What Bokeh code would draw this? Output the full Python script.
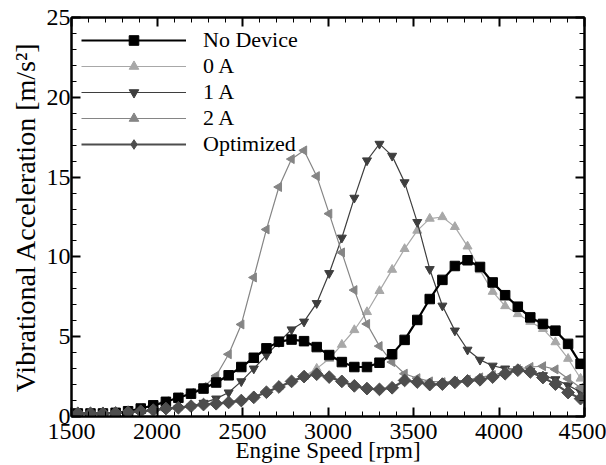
import math
from bokeh.plotting import figure
from bokeh.models import (Range1d, LinearAxis, SingleIntervalTicker, Legend, LegendItem,
                          CustomJSTickFormatter)
from bokeh.embed import file_html
from bokeh.resources import INLINE

rpm = [1537, 1611, 1684, 1758, 1831, 1905, 1978, 2052, 2125, 2199, 2272, 2346, 2419, 2493,
       2566, 2640, 2713, 2787, 2860, 2934, 3007, 3081, 3154, 3228, 3301, 3375, 3448, 3522,
       3595, 3669, 3742, 3816, 3889, 3963, 4036, 4110, 4183, 4257, 4330, 4404, 4477]

no_device = [0.19, 0.19, 0.19, 0.23, 0.33, 0.5, 0.7, 0.92, 1.17, 1.43,
             1.75, 2.13, 2.58, 3.1, 3.68, 4.27, 4.69, 4.82, 4.72, 4.35,
             3.85, 3.41, 3.1, 3.1, 3.37, 3.9, 4.8, 6.05, 7.36, 8.56,
             9.43, 9.79, 9.37, 8.4, 7.6, 6.88, 6.21, 5.8, 5.38, 4.55, 3.3]

zero_a = [0.2, 0.2, 0.2, 0.22, 0.28, 0.35, 0.42, 0.5, 0.57, 0.67,
          0.78, 0.85, 0.92, 1.05, 1.25, 1.55, 1.87, 2.2, 2.5, 3.0,
          3.62, 4.5, 5.42, 6.55, 7.87, 9.2, 10.5, 11.65, 12.4, 12.5,
          11.88, 10.66, 9.17, 7.82, 6.92, 6.42, 5.94, 5.49, 4.66, 3.62, 2.38]

one_a = [0.18, 0.18, 0.18, 0.2, 0.25, 0.3, 0.38, 0.45, 0.52, 0.62,
         0.85, 1.12, 1.5, 2.2, 3.0, 3.85, 4.66, 5.45, 5.94, 7.1,
         8.98, 11.2, 13.7, 16.04, 17.08, 16.33, 14.67, 12.18, 9.23, 6.94,
         5.38, 4.18, 3.55, 3.18, 3.0, 2.95, 2.85, 2.58, 2.33, 1.95, 1.54]

two_a = [0.2, 0.2, 0.2, 0.25, 0.35, 0.52, 0.72, 0.95, 1.2, 1.47,
         1.85, 2.55, 3.9, 5.77, 8.71, 11.72, 14.38, 16.13, 16.67, 15.06,
         12.71, 10.28, 7.92, 5.8, 4.41, 3.41, 2.68, 2.4, 2.2, 2.15,
         2.2, 2.3, 2.45, 2.6, 2.78, 2.97, 3.1, 3.15, 2.95, 2.37, 1.8]

optimized = [0.2, 0.2, 0.2, 0.22, 0.27, 0.33, 0.4, 0.5, 0.55, 0.65,
             0.75, 0.8, 0.88, 1.0, 1.2, 1.52, 1.85, 2.2, 2.5, 2.65,
             2.47, 2.2, 1.92, 1.75, 1.7, 1.8, 2.26, 2.16, 2.0, 2.03,
             2.14, 2.23, 2.3, 2.47, 2.68, 2.9, 2.79, 2.44, 2.03, 1.5, 1.12]

labels = ["No Device", "0 A", "1 A", "2 A", "Optimized"]

FONT = "Liberation Serif"

p = figure(width=606, height=465, output_backend="svg", toolbar_location=None,
           x_range=Range1d(1500, 4500), y_range=Range1d(0, 25),
           min_border_left=71, min_border_right=22, min_border_top=17, min_border_bottom=47,
           x_axis_label="Engine Speed [rpm]", y_axis_label="Vibrational Acceleration [m/s\u00b2]")
p.grid.visible = False
p.outline_line_color = "black"
p.outline_line_width = 2
p.background_fill_color = "white"
p.border_fill_color = "white"

def style_axis(ax, labels=True):
    ax.axis_line_width = 2
    ax.axis_line_color = "black"
    ax.major_tick_in = 9
    ax.major_tick_out = 0
    ax.minor_tick_in = 5
    ax.minor_tick_out = 0
    ax.major_tick_line_width = 2
    ax.minor_tick_line_width = 1
    ax.major_label_text_font = FONT
    ax.axis_label_text_font = FONT
    ax.axis_label_text_font_style = "normal"
    ax.axis_label_text_color = "black"
    ax.major_label_text_color = "black"
    if labels:
        ax.major_label_text_font_size = "24px"
        ax.major_label_standoff = 1
    else:
        ax.formatter = CustomJSTickFormatter(code="return ''")
        ax.major_label_text_font_size = "1px"
        ax.major_label_standoff = 0

p.xaxis.ticker = SingleIntervalTicker(interval=500, num_minor_ticks=5)
p.yaxis.ticker = SingleIntervalTicker(interval=5, num_minor_ticks=5)
style_axis(p.xaxis[0])
style_axis(p.yaxis[0])
p.xaxis[0].major_label_standoff = 7
p.xaxis[0].axis_label_text_font_size = "23px"
p.xaxis[0].axis_label_standoff = -4
p.yaxis[0].axis_label_text_font_size = "28px"
p.yaxis[0].axis_label_standoff = 3

top = LinearAxis(ticker=SingleIntervalTicker(interval=500, num_minor_ticks=5))
right = LinearAxis(ticker=SingleIntervalTicker(interval=5, num_minor_ticks=5))
style_axis(top, labels=False)
style_axis(right, labels=False)
p.add_layout(top, "above")
p.add_layout(right, "right")

c0, c1, c2, cn, co = "#a8a8a8", "#3e3e3e", "#858585", "#000000", "#4d4d4d"

l0 = p.line(rpm, zero_a, line_color=c0, line_width=1.2)
s0 = p.scatter(rpm, zero_a, marker="triangle", size=9, fill_color=c0, line_color=c0)
l1 = p.line(rpm, one_a, line_color=c1, line_width=1.2)
s1 = p.scatter(rpm, one_a, marker="inverted_triangle", size=9, fill_color=c1, line_color=c1)
l2 = p.line(rpm, two_a, line_color=c2, line_width=1.2)
s2 = p.scatter(rpm, two_a, marker="triangle", angle=math.pi / 2, size=9, fill_color=c2, line_color=c2)
ln = p.line(rpm, no_device, line_color=cn, line_width=2.2)
sn = p.scatter(rpm, no_device, marker="square", size=9.5, fill_color=cn, line_color=cn)
lo = p.line(rpm, optimized, line_color=co, line_width=2.2)
so = p.scatter(rpm, optimized, marker="square", angle=math.pi / 4, size=9, fill_color=co, line_color=co)
# legend-only proxy marker (legend markers are drawn unrotated); NaN -> nothing drawn in the plot
so_leg = p.scatter([float("nan")], [float("nan")], marker="diamond", size=12,
                   fill_color=co, line_color=co)

legend = Legend(items=[
    LegendItem(label=labels[0], renderers=[ln, sn]),
    LegendItem(label=labels[1], renderers=[l0, s0]),
    LegendItem(label=labels[2], renderers=[l1, s1]),
    LegendItem(label=labels[3], renderers=[l2, s2]),
    LegendItem(label=labels[4], renderers=[lo, so_leg]),
], location="top_left")
legend.border_line_color = "white"
legend.border_line_alpha = 0
legend.background_fill_alpha = 0
legend.margin = 0
legend.padding = 10
legend.spacing = 0
legend.glyph_width = 105
legend.glyph_height = 24
legend.label_height = 24
legend.label_standoff = 17
legend.label_text_font = FONT
legend.label_text_font_size = "22px"
legend.label_text_line_height = 1.0
legend.label_text_color = "black"
p.add_layout(legend)

open("out.html", "w").write(file_html(p, INLINE))
